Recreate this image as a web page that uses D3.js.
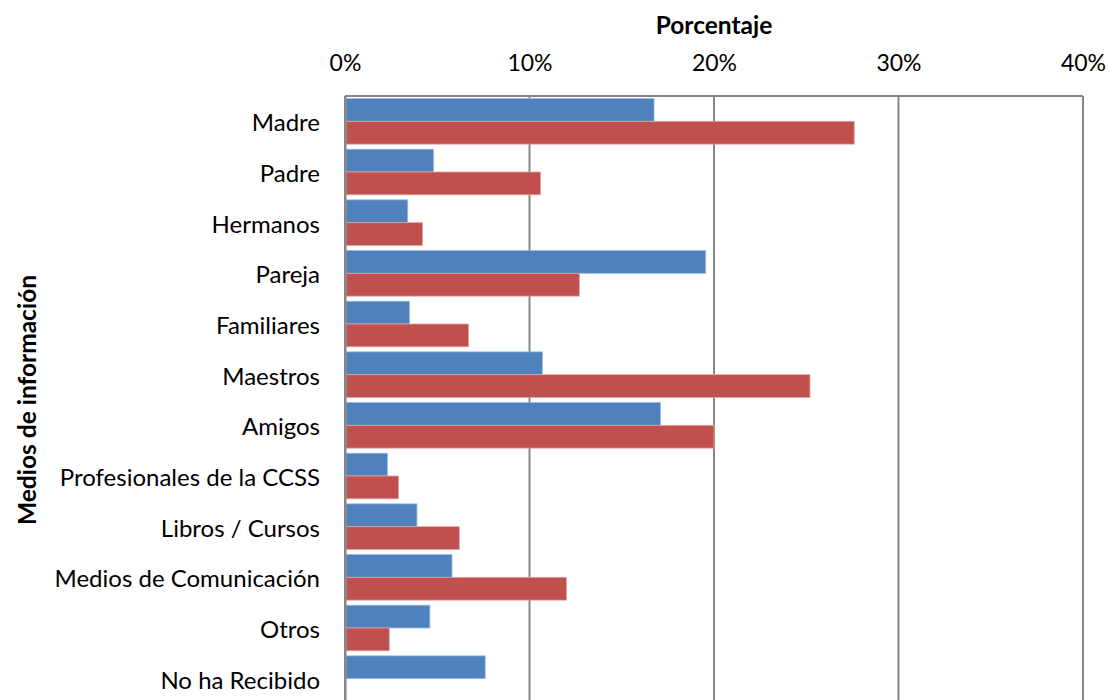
<!DOCTYPE html>
<html>
<head>
<meta charset="utf-8">
<script src="https://cdn.jsdelivr.net/npm/d3@7"></script>
<style>
  body { margin: 0; background: #fff; }
  text { font-family: Lato, "Open Sans", sans-serif; fill: #000; }
</style>
</head>
<body>
<svg id="chart"></svg>
<script>
// categories, top to bottom
const categories = ["Madre", "Padre", "Hermanos", "Pareja", "Familiares", "Maestros", "Amigos",
  "Profesionales de la CCSS", "Libros / Cursos", "Medios de Comunicación", "Otros", "No ha Recibido"];
// series values (percent)
const serieAzul = [16.75, 4.8, 3.4, 19.55, 3.5, 10.7, 17.1, 2.3, 3.9, 5.8, 4.6, 7.6];
const serieRoja = [27.6, 10.6, 4.2, 12.7, 6.7, 25.2, 20.0, 2.9, 6.2, 12.0, 2.4, 0];
const xTicks = [0, 10, 20, 30, 40];

const W = 1110, H = 700;
const margin = { top: 96, left: 345, right: 27, bottom: -4 };
const width = W - margin.left - margin.right;
const height = H - margin.top - margin.bottom;

const svg = d3.select("#chart").attr("width", W).attr("height", H);
const g = svg.append("g").attr("transform", `translate(${margin.left},${margin.top})`);

const x = d3.scaleLinear().domain([0, 40]).range([0, width]);
const y = d3.scaleBand().domain(categories).range([0, height]).paddingInner(0.1).paddingOuter(0.05);
const ySub = d3.scaleBand().domain(["azul", "roja"]).range([0, y.bandwidth()]);

// gridlines
g.selectAll(".grid").data(xTicks).enter().append("line")
  .attr("x1", d => x(d)).attr("x2", d => x(d))
  .attr("y1", 0).attr("y2", height)
  .attr("stroke", "#868686").attr("stroke-width", 2);
g.append("line").attr("x1", 0).attr("x2", width).attr("y1", 0).attr("y2", 0)
  .attr("stroke", "#868686").attr("stroke-width", 2);

// bars
const rows = categories.map((c, i) => ({ c, azul: serieAzul[i], roja: serieRoja[i] }));
const row = g.selectAll(".row").data(rows).enter().append("g")
  .attr("transform", d => `translate(0,${y(d.c)})`);
row.append("rect").attr("x", 1).attr("y", ySub("azul"))
  .attr("width", d => Math.max(0, x(d.azul) - 1)).attr("height", ySub.bandwidth())
  .attr("fill", "#4F81BD").attr("stroke", "#9fbbe0").attr("stroke-width", 0.8)
  .style("display", d => d.azul > 0 ? null : "none");
row.append("rect").attr("x", 1).attr("y", ySub("roja"))
  .attr("width", d => Math.max(0, x(d.roja) - 1)).attr("height", ySub.bandwidth())
  .attr("fill", "#C0504D").attr("stroke", "#e3a3a1").attr("stroke-width", 0.8)
  .style("display", d => d.roja > 0 ? null : "none");

// top axis
const xAxis = d3.axisTop(x).tickValues(xTicks).tickFormat(d => d + "%").tickSize(0).tickPadding(25);
const gx = g.append("g").call(xAxis);
gx.select(".domain").remove();
gx.selectAll("text").style("font-size", "23px").style("font-family", "Lato, sans-serif");

// left axis
const yAxis = d3.axisLeft(y).tickSize(0).tickPadding(25);
const gy = g.append("g").call(yAxis);
gy.select(".domain").attr("stroke", "#868686").attr("stroke-width", 2);
gy.selectAll("text").attr("dy", "0.42em").style("font-size", "24px").style("font-family", "Lato, sans-serif");

// axis titles
svg.append("text").attr("x", margin.left + width / 2).attr("y", 34)
  .attr("text-anchor", "middle").style("font-size", "24.5px").style("font-weight", "bold")
  .text("Porcentaje");
svg.append("text").attr("transform", `translate(36,${margin.top + 304}) rotate(-90)`)
  .attr("text-anchor", "middle").style("font-size", "24.5px").style("font-weight", "bold")
  .text("Medios de información");
</script>
</body>
</html>
